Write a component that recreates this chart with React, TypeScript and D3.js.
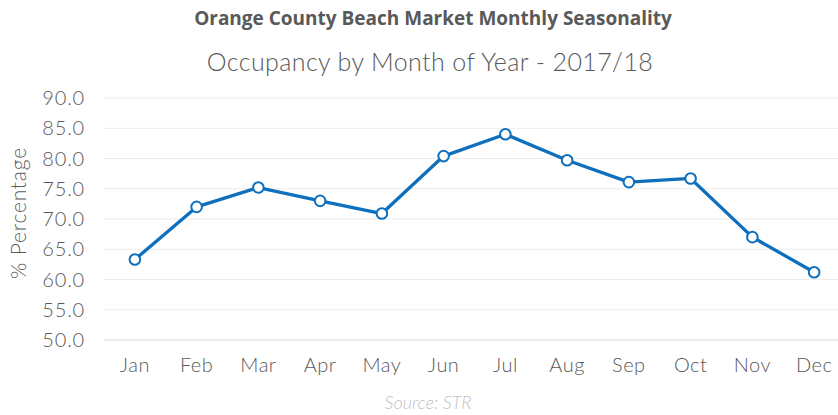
import React from "react";
import * as d3 from "d3";

const months = ["Jan", "Feb", "Mar", "Apr", "May", "Jun", "Jul", "Aug", "Sep", "Oct", "Nov", "Dec"];
const occupancy = [63.3, 72.0, 75.2, 73.0, 70.9, 80.4, 84.0, 79.7, 76.1, 76.7, 67.0, 61.2];
const yTicks = [50, 55, 60, 65, 70, 75, 80, 85, 90];
const title = "Orange County Beach Market Monthly Seasonality";
const subtitle = "Occupancy by Month of Year - 2017/18";
const yAxisTitle = "% Percentage";
const sourceText = "Source: STR";

const W = 838;
const H = 415;
const plotLeft = 104;
const plotRight = 845;
const plotTop = 98;
const plotBottom = 340;
const FONT = "Lato, 'Open Sans', sans-serif";

export default function App() {
  const x = d3.scaleBand<string>().domain(months).range([plotLeft, plotRight]).padding(0);
  const y = d3.scaleLinear().domain([50, 90]).range([plotBottom, plotTop]);
  const cx = (m: string) => (x(m) as number) + x.bandwidth() / 2;
  const line = d3
    .line<number>()
    .x((_, i) => cx(months[i]))
    .y((d) => y(d));

  return (
    <svg
      width={W}
      height={H}
      style={{ position: "absolute", left: 0, top: 0, background: "#fff" }}
    >
      <text x={433} y={25} textAnchor="middle" fontFamily="'Open Sans', sans-serif" fontWeight={700} fontSize={19} letterSpacing={0} fill="#595959">
        {title}
      </text>
      <text x={430} y={71} textAnchor="middle" fontFamily={FONT} fontWeight={300} fontSize={25} letterSpacing={0.4} fill="#595959">
        {subtitle}
      </text>
      {yTicks.map((t) => (
        <g key={t}>
          <line
            x1={plotLeft}
            x2={plotRight}
            y1={y(t)}
            y2={y(t)}
            stroke={t === 50 ? "#d9d9d9" : "#ececec"}
            strokeWidth={1}
          />
          <text x={85} y={y(t)} dy="0.35em" textAnchor="end" fontFamily={FONT} fontWeight={300} fontSize={20} letterSpacing={0.8} fill="#595959">
            {t.toFixed(1)}
          </text>
        </g>
      ))}
      <text
        transform={`translate(26,${(plotTop + plotBottom) / 2 - 6}) rotate(-90)`}
        textAnchor="middle"
        fontFamily={FONT}
        fontWeight={300}
        fontSize={21}
        letterSpacing={0.8}
        fill="#595959"
      >
        {yAxisTitle}
      </text>
      {months.map((m) => (
        <text key={m} x={cx(m)} y={372} textAnchor="middle" fontFamily={FONT} fontWeight={300} fontSize={20} letterSpacing={0.5} fill="#595959">
          {m}
        </text>
      ))}
      <path d={line(occupancy) || ""} fill="none" stroke="#0e6fbd" strokeWidth={3.3} strokeLinejoin="round" />
      {occupancy.map((v, i) => (
        <circle key={i} cx={cx(months[i])} cy={y(v)} r={5.3} fill="#fff" stroke="#0e6fbd" strokeWidth={2} />
      ))}
      <text x={428} y={409} textAnchor="middle" fontFamily={FONT} fontStyle="italic" fontWeight={300} fontSize={18} fill="#bfbfbf">
        {sourceText}
      </text>
    </svg>
  );
}
